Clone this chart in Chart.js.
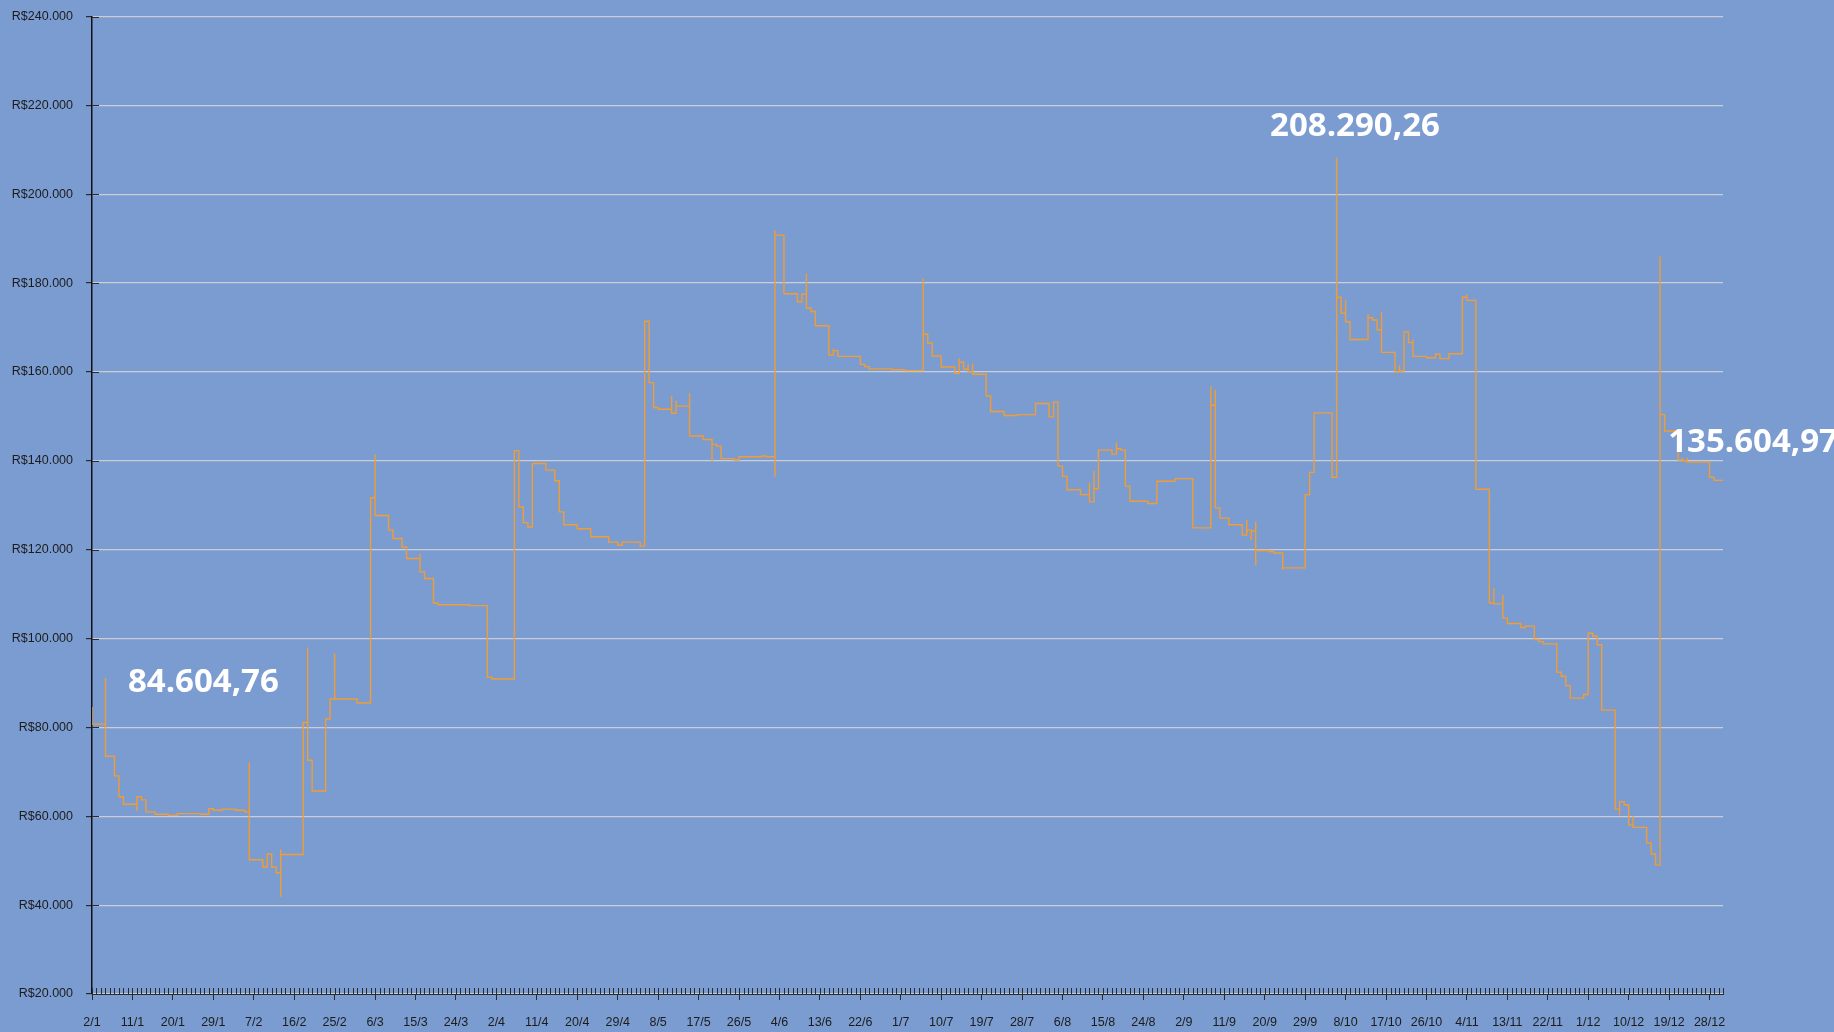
<!DOCTYPE html>
<html>
<head>
<meta charset="utf-8">
<script src="https://cdn.jsdelivr.net/npm/chart.js@4.4.1/dist/chart.umd.min.js"></script>
<style>
  html, body { margin: 0; padding: 0; background: #7b9cd0; }
  #wrap { width: 1834px; height: 1032px; position: relative; }
</style>
</head>
<body>
<div id="wrap"><canvas id="saldo"></canvas></div>
<script>
// dia 0 = 2/1 ; pontos repetidos no mesmo dia = picos intradiarios
const days = [
  0, 0, 3, 3, 5, 6, 7, 10, 10, 11, 12, 14, 17, 19, 24, 26, 27, 29, 32, 34,
  35, 35, 35, 38, 39, 39, 40, 41, 42, 42, 42, 47, 48, 48, 48, 49, 52, 53, 54, 54,
  59, 62, 63, 63, 66, 67, 69, 70, 73, 73, 74, 76, 77, 84, 88, 89, 94, 95, 96, 97,
  98, 101, 103, 104, 105, 108, 111, 115, 117, 118, 122, 123, 124, 125, 126, 129, 129, 130, 130, 133,
  133, 136, 138, 138, 139, 140, 143, 144, 149, 150, 152, 152, 152, 154, 157, 158, 159, 159, 160, 161,
  164, 165, 165, 166, 171, 172, 173, 178, 181, 185, 185, 186, 187, 189, 192, 193, 193, 194, 195, 195,
  196, 196, 199, 200, 203, 206, 210, 213, 214, 215, 216, 217, 220, 222, 222, 223, 223, 224, 227, 228,
  228, 229, 230, 231, 235, 237, 241, 245, 249, 249, 250, 250, 251, 253, 256, 257, 257, 258, 258, 259,
  259, 259, 262, 263, 265, 265, 265, 270, 271, 272, 276, 277, 277, 278, 279, 279, 280, 284, 284, 285,
  286, 287, 287, 290, 291, 291, 292, 293, 294, 294, 297, 299, 300, 302, 305, 306, 306, 308, 311, 312,
  312, 314, 314, 315, 318, 319, 321, 322, 323, 326, 327, 328, 329, 332, 333, 334, 335, 336, 339, 340,
  340, 341, 342, 343, 343, 346, 347, 348, 349, 349, 350, 353, 354, 354, 355, 355, 360, 361, 363
];
const balance = [
  84604.76, 80750, 91100, 73500, 69100, 64400, 62700, 61200, 64400, 63700, 61000, 60450, 60200, 60600, 60450, 61700, 61350, 61600, 61350, 61000,
  60000, 72100, 50200, 48600, 48400, 51500, 48600, 47300, 41900, 52500, 51400, 81100, 78100, 98000, 72600, 65700, 81900, 86400, 96700, 86400,
  85500, 131700, 141500, 127700, 124400, 122500, 120600, 118000, 119100, 115000, 113500, 108000, 107600, 107400, 91300, 90900, 142300, 129600, 126100, 125100,
  139400, 137900, 135500, 128500, 125600, 124700, 122900, 121700, 121000, 121700, 120800, 171400, 157600, 152000, 151600, 154600, 150700, 153500, 152300, 155200,
  145600, 144800, 139800, 143700, 143300, 140500, 140200, 140900, 141100, 140900, 136400, 191900, 190800, 177600, 175800, 177500, 182100, 174400, 173600, 170400,
  163800, 165300, 164800, 163500, 161700, 161200, 160700, 160500, 160300, 181100, 168500, 166500, 163600, 161100, 159700, 163100, 162200, 160600, 161800, 160000,
  161900, 159500, 154600, 151100, 150200, 150400, 152900, 149900, 153200, 138800, 136500, 133500, 132400, 135000, 130750, 137700, 133700, 142400, 141500, 144100,
  142700, 142400, 134300, 130900, 130400, 135400, 136000, 124900, 156800, 152500, 156000, 129400, 127100, 125600, 123300, 126700, 124400, 122200, 124200, 126300,
  116500, 119800, 119600, 119250, 116500, 115400, 115900, 132400, 137400, 150800, 136300, 208290.26, 176800, 173200, 176100, 171300, 167300, 173000, 172200, 171700,
  169500, 173500, 164400, 160000, 161500, 160200, 169000, 166600, 167300, 163500, 163200, 164000, 163000, 164100, 176800, 177400, 176100, 133600, 108000, 111400,
  107800, 109800, 104600, 103400, 102500, 102800, 99800, 99300, 98800, 92400, 91500, 89400, 86600, 87400, 101200, 100500, 98600, 83900, 61600, 60300,
  63300, 62600, 58000, 60000, 57500, 54000, 51500, 49000, 186000, 150400, 146700, 140200, 140700, 140000, 140700, 139700, 136300, 135604.97, 135604.97
];

const dateLabels = ['2/1', '11/1', '20/1', '29/1', '7/2', '16/2', '25/2', '6/3', '15/3', '24/3', '2/4', '11/4', '20/4', '29/4',
  '8/5', '17/5', '26/5', '4/6', '13/6', '22/6', '1/7', '10/7', '19/7', '28/7', '6/8', '15/8', '24/8', '2/9', '11/9', '20/9',
  '29/9', '8/10', '17/10', '26/10', '4/11', '13/11', '22/11', '1/12', '10/12', '19/12', '28/12'];

// destaques: inicio, pico e saldo final
const calloutText = ['84.604,76', '208.290,26', '135.604,97'];
const calloutDay = [8, 262.2, 350.8];
const calloutValue = [88000, 213200, 141900];

const lastDay = 363;

const brl = v => 'R$' + v.toLocaleString('pt-BR');

// ticks diarios do eixo X e meia-marca interna do eixo Y
const tickMarks = {
  id: 'tickMarks',
  afterDraw(chart) {
    const { ctx, chartArea, scales } = chart;
    ctx.save();
    ctx.strokeStyle = '#2b2b2b';
    ctx.lineWidth = 1;
    for (let d = 0; d <= lastDay; d++) {
      const x = Math.round(scales.x.getPixelForValue(d)) + 0.5;
      ctx.beginPath();
      ctx.moveTo(x, chartArea.bottom - 6);
      ctx.lineTo(x, chartArea.bottom);
      ctx.stroke();
    }
    scales.y.ticks.forEach(t => {
      const y = Math.round(scales.y.getPixelForValue(t.value)) + 0.5;
      ctx.beginPath();
      ctx.moveTo(chartArea.left, y);
      ctx.lineTo(chartArea.left + 7, y);
      ctx.stroke();
    });
    ctx.restore();
  }
};

const callouts = {
  id: 'callouts',
  afterDatasetsDraw(chart) {
    const { ctx, scales } = chart;
    ctx.save();
    ctx.fillStyle = '#ffffff';
    ctx.font = 'bold 33px "Open Sans"';
    ctx.textAlign = 'left';
    ctx.textBaseline = 'alphabetic';
    calloutText.forEach((txt, i) => {
      ctx.fillText(txt, scales.x.getPixelForValue(calloutDay[i]), scales.y.getPixelForValue(calloutValue[i]));
    });
    ctx.restore();
  }
};

new Chart(document.getElementById('saldo'), {
  type: 'line',
  data: {
    datasets: [{
      label: 'Saldo',
      data: days.map((d, i) => ({ x: d, y: balance[i] })),
      stepped: true,
      borderColor: '#f19c34',
      borderWidth: 1.4,
      pointRadius: 0,
      fill: false
    }]
  },
  options: {
    responsive: true,
    maintainAspectRatio: false,
    animation: false,
    layout: { padding: { left: 0, right: 111, top: 16.5, bottom: 0 } },
    plugins: { legend: { display: false }, tooltip: { enabled: false } },
    scales: {
      x: {
        type: 'linear',
        min: 0,
        max: lastDay,
        afterFit: s => { s.height = 38; s.paddingLeft = 0; s.paddingRight = 0; },
        border: { color: '#2b2b2b', width: 1 },
        grid: { drawOnChartArea: false, tickLength: 6, tickColor: '#2b2b2b' },
        ticks: {
          stepSize: 9,
          includeBounds: false,
          autoSkip: false,
          maxRotation: 0,
          padding: 15,
          color: '#1c1c1c',
          font: { family: '"Liberation Sans", Arial, sans-serif', size: 12.5 },
          callback: v => (v % 9 === 0 ? dateLabels[v / 9] : '')
        }
      },
      y: {
        min: 20000,
        max: 240000,
        afterFit: s => { s.width = 92; s.paddingTop = 0; s.paddingBottom = 0; },
        border: { color: '#111111', width: 1.5 },
        grid: { color: '#c9cdd6', lineWidth: 1.2, tickLength: 6, tickColor: '#2b2b2b' },
        ticks: {
          stepSize: 20000,
          padding: 13,
          color: '#1c1c1c',
          font: { family: '"Liberation Sans", Arial, sans-serif', size: 12.5 },
          callback: v => brl(v)
        }
      }
    }
  },
  plugins: [tickMarks, callouts]
});
</script>
</body>
</html>
